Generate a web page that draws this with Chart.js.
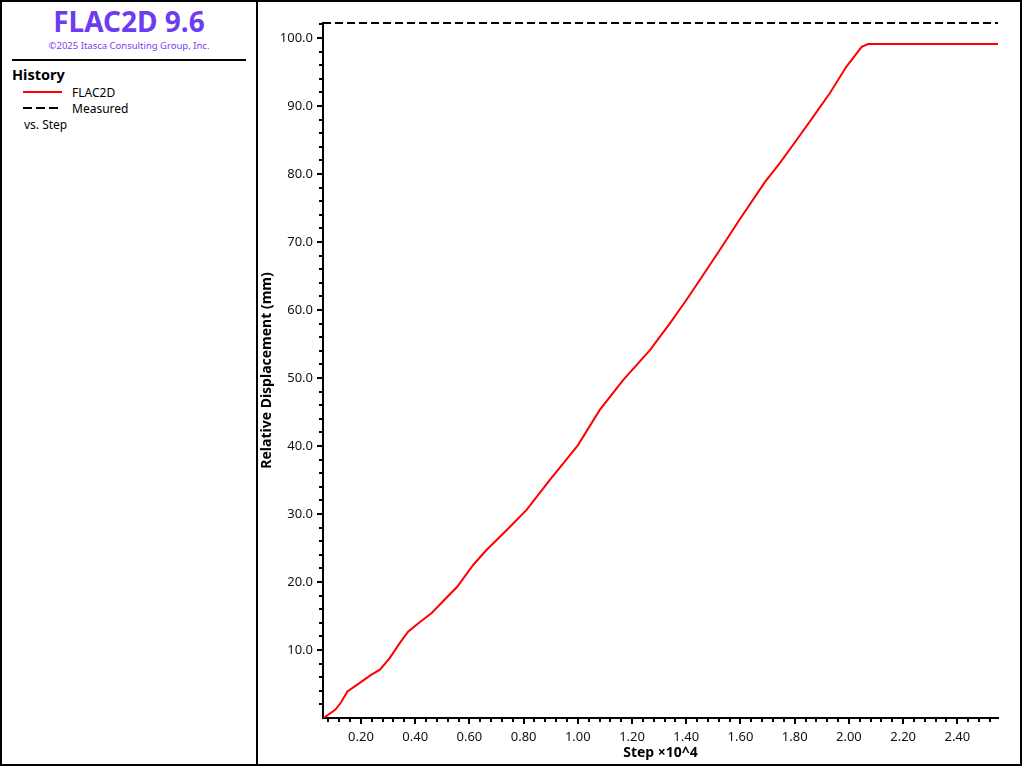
<!DOCTYPE html>
<html>
<head>
<meta charset="utf-8">
<script src="https://cdn.jsdelivr.net/npm/chart.js@4.4.1/dist/chart.umd.min.js"></script>
<style>
    html, body { margin: 0; padding: 0; background: #fff; }
    body { width: 1024px; height: 768px; position: relative; overflow: hidden; font-family: "Noto Sans", sans-serif; }
    #frame { position: absolute; left: 0; top: 0; width: 1022px; height: 766px; border: 2px solid #000; box-sizing: border-box; }
    #side { position: absolute; left: 0; top: 0; width: 254px; height: 762px; border-right: 2px solid #000; }
    .brand { position: absolute; left: 0; width: 254px; top: 2px; text-align: center; color: #6e3cf0; font-weight: bold; font-size: 28px; line-height: 34px; }
    .copy { position: absolute; left: 0; width: 254px; top: 37px; text-align: center; color: #7a3cf0; font-size: 9.5px; line-height: 14px; }
    .rule { position: absolute; left: 10px; top: 57px; width: 234px; height: 2px; background: #000; }
    .hist { position: absolute; left: 10px; top: 63px; font-weight: bold; font-size: 14.5px; line-height: 18px; color: #000; }
    .key { position: absolute; left: 21px; height: 2px; }
    .key.red { top: 89px; width: 39px; background: #f00; }
    .key.dash { top: 105px; width: 35px; background: repeating-linear-gradient(to right, #000 0 9px, transparent 9px 13px); }
    .lbl { position: absolute; left: 70px; font-size: 12px; line-height: 16px; color: #000; }
    .vs { position: absolute; left: 22px; top: 115px; font-size: 12px; line-height: 16px; color: #000; }
    #plot { position: absolute; left: 255px; top: 0; width: 762px; height: 762px; }
</style>
</head>
<body>
<div id="frame">
    <div id="side">
        <div class="brand">FLAC2D 9.6</div>
        <div class="copy">©2025 Itasca Consulting Group, Inc.</div>
        <div class="rule"></div>
        <div class="hist">History</div>
        <div class="key red"></div>
        <div class="lbl" style="top:83px">FLAC2D</div>
        <div class="key dash"></div>
        <div class="lbl" style="top:99px">Measured</div>
        <div class="vs">vs. Step</div>
    </div>
    <div id="plot"><canvas id="chart"></canvas></div>
</div>
<script>
// History data (step in units of 10^4, displacement in mm)
const flacSteps = [0.062, 0.105, 0.125, 0.150, 0.193, 0.236, 0.270, 0.306, 0.343, 0.374, 0.420, 0.460, 0.555,
    0.614, 0.663, 0.737, 0.811, 0.897, 1.000, 1.081, 1.167, 1.266, 1.339, 1.401, 1.450, 1.520, 1.600,
    1.690, 1.745, 1.807, 1.868, 1.930, 1.991, 2.047, 2.071, 2.200, 2.400, 2.550];
const flacDisp = [0.0, 1.2, 2.2, 3.9, 5.1, 6.3, 7.1, 8.8, 11.0, 12.7, 14.2, 15.4, 19.3,
    22.5, 24.7, 27.6, 30.6, 35.0, 40.1, 45.3, 49.7, 54.1, 58.0, 61.5, 64.4, 68.6, 73.5,
    78.8, 81.6, 85.0, 88.4, 91.9, 95.8, 98.7, 99.1, 99.1, 99.1, 99.1];

const measuredSteps = [0.06, 2.55];
const measuredDisp = [102.2, 102.2];

// axis ranges and tick labels
const xRange = [0.06, 2.55];
const yRange = [0, 102.2];
const xMajorTicks = [0.2, 0.4, 0.6, 0.8, 1.0, 1.2, 1.4, 1.6, 1.8, 2.0, 2.2, 2.4];
const yMajorTicks = [10, 20, 30, 40, 50, 60, 70, 80, 90, 100];
const xMinorStep = 0.04;
const yMinorStep = 2;

// Minor/major tick marks drawn outward from the axis lines
const tickMarks = {
    id: 'tickMarks',
    afterDraw(chart) {
        const ctx = chart.ctx;
        const x = chart.scales.x, y = chart.scales.y;
        const area = chart.chartArea;
        ctx.save();
        ctx.strokeStyle = '#000';
        ctx.lineWidth = 2;
        ctx.beginPath();
        for (let i = 1; ; i++) {
            const v = Math.round((xMinorStep * i) * 100) / 100;
            if (v > xRange[1]) break;
            if (v < xRange[0]) continue;
            const major = xMajorTicks.some(t => Math.abs(t - v) < 1e-6);
            const px = Math.round(x.getPixelForValue(v));
            ctx.moveTo(px, area.bottom);
            ctx.lineTo(px, area.bottom + (major ? 6 : 4));
        }
        for (let v = yMinorStep; v <= yRange[1] + 1e-6; v += yMinorStep) {
            const major = yMajorTicks.includes(v);
            const py = Math.round(y.getPixelForValue(v));
            ctx.moveTo(area.left, py);
            ctx.lineTo(area.left - (major ? 6 : 4), py);
        }
        ctx.stroke();
        ctx.restore();
    }
};

const labelFont = { family: 'Noto Sans', size: 13 };
const titleFont = { family: 'Noto Sans', size: 14, weight: 'bold' };

new Chart(document.getElementById('chart'), {
    type: 'line',
    data: {
        datasets: [{
            label: 'FLAC2D',
            data: flacSteps.map((s, i) => ({ x: s, y: flacDisp[i] })),
            borderColor: '#ff0000',
            borderWidth: 2,
            pointRadius: 0,
            tension: 0,
            fill: false
        }, {
            label: 'Measured',
            data: measuredSteps.map((s, i) => ({ x: s, y: measuredDisp[i] })),
            borderColor: '#000000',
            borderWidth: 2,
            borderDash: [8, 4],
            pointRadius: 0,
            fill: false,
            clip: false
        }]
    },
    options: {
        responsive: true,
        maintainAspectRatio: false,
        animation: false,
        layout: { padding: { left: 0, right: 21, top: 21, bottom: 0 } },
        plugins: {
            legend: { display: false },
            tooltip: { enabled: false }
        },
        scales: {
            x: {
                type: 'linear',
                min: xRange[0],
                max: xRange[1],
                afterBuildTicks: scale => { scale.ticks = xMajorTicks.map(v => ({ value: v })); },
                afterFit: scale => { scale.height = 46; },
                grid: { display: false, drawTicks: false },
                border: { display: true, color: '#000', width: 2 },
                ticks: {
                    autoSkip: false,
                    maxRotation: 0,
                    padding: 11,
                    color: '#111',
                    font: labelFont,
                    callback: v => v.toFixed(2)
                },
                title: { display: true, text: 'Step ×10^4', color: '#000', font: titleFont, padding: { top: 0, bottom: 3 } }
            },
            y: {
                min: yRange[0],
                max: yRange[1],
                afterBuildTicks: scale => { scale.ticks = yMajorTicks.map(v => ({ value: v })); },
                afterFit: scale => { scale.width = 66; },
                grid: { display: false, drawTicks: false },
                border: { display: true, color: '#000', width: 2 },
                ticks: {
                    autoSkip: false,
                    padding: 10,
                    color: '#111',
                    font: labelFont,
                    callback: v => v.toFixed(1)
                },
                title: { display: true, text: 'Relative Displacement (mm)', color: '#000', font: titleFont, padding: { top: 2, bottom: 0 } }
            }
        }
    },
    plugins: [tickMarks]
});
</script>
</body>
</html>
